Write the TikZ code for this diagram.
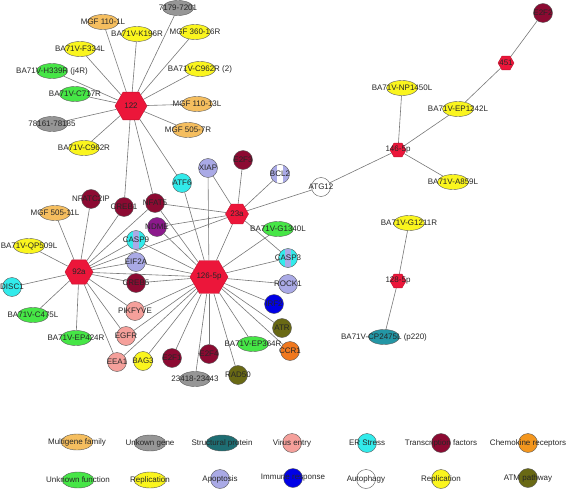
\documentclass[tikz,border=0pt]{standalone}
\usepackage{fontspec}
\setmainfont{Liberation Sans}
\usetikzlibrary{shapes.geometric,backgrounds}
\definecolor{hubred}{RGB}{236,22,58}
\definecolor{cyellow}{RGB}{250,245,30}
\definecolor{cgreen}{RGB}{70,230,70}
\definecolor{corange}{RGB}{245,190,95}
\definecolor{cgray}{RGB}{150,150,150}
\definecolor{cteal}{RGB}{35,150,165}
\definecolor{cdteal}{RGB}{30,110,115}
\definecolor{cpink}{RGB}{245,160,155}
\definecolor{ccyan}{RGB}{50,235,235}
\definecolor{cdred}{RGB}{140,10,50}
\definecolor{cchem}{RGB}{243,150,30}
\definecolor{cccr}{RGB}{240,120,30}
\definecolor{clav}{RGB}{170,170,230}
\definecolor{cblue}{RGB}{0,0,230}
\definecolor{colive}{RGB}{105,105,20}
\definecolor{cpurple}{RGB}{140,25,140}
\definecolor{edgegray}{RGB}{120,120,120}
\tikzset{
  x=1pt, y=-1pt,
  edge/.style={draw=edgegray, line width=0.6pt},
  lbl/.style={font=\fontsize{8}{9}\selectfont, text=black!85, inner sep=0},
  hub/.style={regular polygon, regular polygon sides=6, fill=hubred, draw=hubred!80!black, line width=0.4pt, inner sep=0},
  gene/.style={ellipse, draw=black!65, line width=0.4pt, minimum width=31pt, minimum height=15pt, inner sep=0},
  prot/.style={circle, draw=black!65, line width=0.4pt, minimum size=19pt, inner sep=0},
  stripe/.style={path picture={\fill[#1] ([xshift=-3pt]path picture bounding box.south) rectangle ([xshift=3pt]path picture bounding box.north);}}
}
\begin{document}
\begin{tikzpicture}
\useasboundingbox (0,0) rectangle (567,489);
% hubs
\node[hub, minimum size=32pt, label={[lbl]center:122}] (h122) at (131,106) {};
\node[hub, minimum size=28pt, label={[lbl]center:92a}] (h92a) at (79,272) {};
\node[hub, minimum size=38pt, label={[lbl]center:126-5p}] (h126) at (209,277) {};
\node[hub, minimum size=23pt, label={[lbl]center:23a}] (h23a) at (237,214) {};
\node[hub, minimum size=16pt, label={[lbl]center:146-5p}] (h146) at (398,150) {};
\node[hub, minimum size=16pt, label={[lbl]center:451}] (h451) at (506,63) {};
\node[hub, minimum size=16pt, label={[lbl]center:128-5p}] (h128) at (398,281) {};
% ellipse genes
\node[gene, fill=corange, label={[lbl]center:MGF 110-1L}] (mgf1101l) at (103,22) {};
\node[gene, fill=cgray, label={[lbl]center:7179-7201}] (g7179) at (178,8) {};
\node[gene, fill=cyellow, label={[lbl]center:BA71V-K196R}] (k196r) at (137,34) {};
\node[gene, fill=cyellow, label={[lbl]center:MGF 360-16R}] (mgf36016r) at (195,32) {};
\node[gene, fill=cyellow, label={[lbl]center:BA71V-F334L}] (f334l) at (80,49) {};
\node[gene, fill=cgreen, label={[lbl]center:BA71V-H339R (j4R)}] (h339r) at (52,71) {};
\node[gene, fill=cyellow, label={[lbl]center:BA71V-C962R (2)}] (c962r2) at (200,69) {};
\node[gene, fill=cgreen, label={[lbl]center:BA71V-C717R}] (c717r) at (75,94) {};
\node[gene, fill=corange, label={[lbl]center:MGF 110-13L}] (mgf11013l) at (197,104) {};
\node[gene, fill=cgray, label={[lbl]center:78161-78185}] (g78161) at (52,124) {};
\node[gene, fill=corange, label={[lbl]center:MGF 505-7R}] (mgf5057r) at (188,130) {};
\node[gene, fill=cyellow, label={[lbl]center:BA71V-C962R}] (c962r) at (84,148) {};
\node[gene, fill=corange, label={[lbl]center:MGF 505-11L}] (mgf50511l) at (55,213) {};
\node[gene, fill=cyellow, label={[lbl]center:BA71V-QP509L}] (qp509l) at (29,246) {};
\node[gene, fill=cgreen, label={[lbl]center:BA71V-C475L}] (c475l) at (33,315) {};
\node[gene, fill=cgreen, label={[lbl]center:BA71V-EP424R}] (ep424r) at (76,338) {};
\node[gene, fill=cgray, label={[lbl]center:23418-23443}] (g23418) at (195,379) {};
\node[gene, fill=cgreen, label={[lbl]center:BA71V-EP364R}] (ep364r) at (253,344) {};
\node[gene, fill=cgreen, label={[lbl]center:BA71V-G1340L}] (g1340l) at (278,229) {};
\node[gene, fill=cyellow, label={[lbl]center:BA71V-NP1450L}] (np1450l) at (402,88) {};
\node[gene, fill=cyellow, label={[lbl]center:BA71V-EP1242L}] (ep1242l) at (458,109) {};
\node[gene, fill=cyellow, label={[lbl]center:BA71V-A859L}] (a859l) at (453,182) {};
\node[gene, fill=cyellow, label={[lbl]center:BA71V-G1211R}] (g1211r) at (409,223) {};
\node[gene, fill=cteal, label={[lbl]center:BA71V-CP2475L (p220)}] (cp2475l) at (384,337) {};
% circle proteins
\node[prot, fill=cdred, label={[lbl]center:NFATC2IP}] (nfatc2ip) at (91,199) {};
\node[prot, fill=cdred, label={[lbl]center:CREB1}] (creb1) at (124,207) {};
\node[prot, fill=cdred, label={[lbl]center:NFAT5}] (nfat5) at (155,203) {};
\node[prot, fill=cpurple, label={[lbl]center:NDME}] (ndme) at (157,227) {};
\node[prot, fill=ccyan, stripe=clav, label={[lbl]center:CASP9}] (casp9) at (136,240) {};
\node[prot, fill=clav, label={[lbl]center:EIF2A}] (eif2a) at (136,262) {};
\node[prot, fill=ccyan, label={[lbl]center:DISC1}] (disc1) at (12,287) {};
\node[prot, fill=cdred, label={[lbl]center:CREB5}] (creb5) at (136,283) {};
\node[prot, fill=cpink, label={[lbl]center:PIKFYVE}] (pikfyve) at (135,311) {};
\node[prot, fill=cpink, label={[lbl]center:EGFR}] (egfr) at (126,336) {};
\node[prot, fill=cpink, label={[lbl]center:EEA1}] (eea1) at (117,362) {};
\node[prot, fill=cyellow, label={[lbl]center:BAG3}] (bag3) at (143,361) {};
\node[prot, fill=cdred, label={[lbl]center:E2F1}] (e2fa) at (172,358) {};
\node[prot, fill=cdred, label={[lbl]center:E2F4}] (e2fb) at (209,354) {};
\node[prot, fill=colive, label={[lbl]center:RAD50}] (rad50) at (238,375) {};
\node[prot, fill=cccr, label={[lbl]center:CCR1}] (ccr1) at (290,351) {};
\node[prot, fill=colive, label={[lbl]center:ATR}] (atr) at (282,328) {};
\node[prot, fill=cblue, label={[lbl]center:IRF2}] (irf2) at (274,304) {};
\node[prot, fill=clav, label={[lbl]center:ROCK1}] (rock1) at (288,284) {};
\node[prot, fill=ccyan, stripe=clav, label={[lbl]center:CASP3}] (casp3) at (288,258) {};
\node[prot, fill=clav, label={[lbl]center:XIAP}] (xiap) at (208,168) {};
\node[prot, fill=cdred, label={[lbl]center:E2F3}] (e2f3) at (243,160) {};
\node[prot, fill=ccyan, label={[lbl]center:ATF6}] (atf6) at (182,183) {};
\node[prot, fill=clav, stripe=white, label={[lbl]center:BCL2}] (bcl2) at (280,174) {};
\node[prot, fill=white, label={[lbl]center:ATG12}] (atg12) at (321,187) {};
\node[prot, fill=cdred, label={[lbl]center:E2F2}] (e2ftr) at (543,13) {};
% edges
\begin{pgfonlayer}{background}
\foreach \t in {mgf1101l,g7179,k196r,mgf36016r,f334l,h339r,c962r2,c717r,mgf11013l,g78161,mgf5057r,c962r,creb1,nfat5,atf6}
  \draw[edge] (h122) -- (\t);
\foreach \t in {nfatc2ip,mgf50511l,qp509l,disc1,c475l,ep424r,creb1,nfat5,casp9,eif2a,creb5,pikfyve,egfr,eea1,h23a,h126}
  \draw[edge] (h92a) -- (\t);
\foreach \t in {xiap,atf6,nfat5,ndme,casp9,eif2a,creb5,pikfyve,egfr,eea1,bag3,e2fa,e2fb,g23418,rad50,ep364r,ccr1,atr,irf2,rock1,casp3,g1340l,h23a}
  \draw[edge] (h126) -- (\t);
\foreach \t in {xiap,e2f3,bcl2,atg12,casp3,nfat5,ndme}
  \draw[edge] (h23a) -- (\t);
\foreach \t in {np1450l,ep1242l,a859l,atg12}
  \draw[edge] (h146) -- (\t);
\draw[edge] (h451) -- (ep1242l);
\draw[edge] (h451) -- (e2ftr);
\draw[edge] (h128) -- (g1211r);
\draw[edge] (h128) -- (cp2475l);
\end{pgfonlayer}
% legend
\node[gene, minimum width=32pt, minimum height=16pt, fill=corange, label={[lbl]center:Multigene family}] (lg1) at (77,442) {};
\node[gene, minimum width=32pt, minimum height=16pt, fill=cgray, label={[lbl]center:Unkown gene}] (lg2) at (150,443) {};
\node[gene, minimum width=32pt, minimum height=16pt, fill=cdteal, label={[lbl]center:Structural protein}] (lg3) at (222,443) {};
\node[prot, fill=cpink, label={[lbl]center:Virus entry}] (lg4) at (292,443) {};
\node[prot, fill=ccyan, label={[lbl]center:ER Stress}] (lg5) at (367,443) {};
\node[prot, fill=cdred, label={[lbl]center:Transcription factors}] (lg6) at (441,443) {};
\node[prot, fill=cchem, label={[lbl]center:Chemokine receptors}] (lg7) at (528,443) {};
\node[gene, minimum width=32pt, minimum height=16pt, fill=cgreen, label={[lbl]center:Unknown function}] (lg8) at (78,480) {};
\node[gene, minimum width=32pt, minimum height=16pt, fill=cyellow, label={[lbl]center:Replication}] (lg9) at (150,480) {};
\node[prot, fill=clav, label={[lbl]center:Apoptosis}] (lg10) at (220,479) {};
\node[prot, fill=cblue, label={[lbl]center:Immune response}] (lg11) at (293,478) {};
\node[prot, fill=white, label={[lbl]center:Autophagy}] (lg12) at (366,479) {};
\node[prot, fill=cyellow, label={[lbl]center:Replication}] (lg13) at (441,479) {};
\node[prot, fill=colive, label={[lbl]center:ATM pathway}] (lg14) at (528,478) {};
\end{tikzpicture}
\end{document}
